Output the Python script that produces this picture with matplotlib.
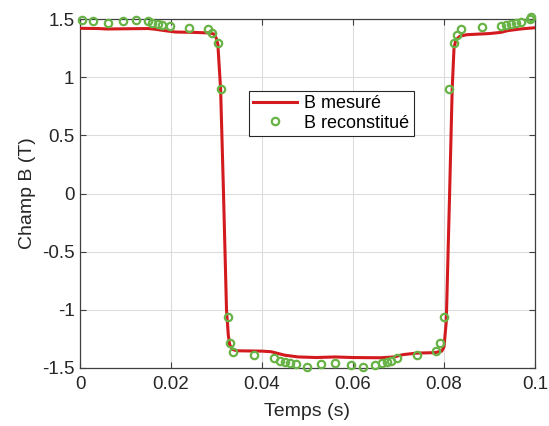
import matplotlib
matplotlib.use("Agg")
import matplotlib.pyplot as plt
from matplotlib.ticker import FixedLocator, FixedFormatter

plt.rcParams['font.family'] = ['Liberation Sans', 'DejaVu Sans']

# Measured B (red line)
t_mes = [0.000, 0.004, 0.006, 0.010, 0.015, 0.0165, 0.019, 0.021, 0.025, 0.0285,
         0.0295, 0.0300, 0.0303, 0.0309, 0.0315, 0.0322, 0.0326, 0.0329, 0.0335,
         0.0345, 0.040, 0.042, 0.045, 0.048, 0.052, 0.056, 0.060, 0.066, 0.069,
         0.071, 0.074, 0.078, 0.0795, 0.0800, 0.0805, 0.0812, 0.0818, 0.0822,
         0.0826, 0.0835, 0.0850, 0.090, 0.0925, 0.094, 0.097, 0.100]
B_mes = [1.420, 1.418, 1.414, 1.416, 1.418, 1.412, 1.398, 1.388, 1.385, 1.380,
         1.370, 1.330, 1.28, 0.90, 0.06, -1.00, -1.22, -1.30, -1.34,
         -1.352, -1.355, -1.36, -1.39, -1.405, -1.41, -1.405, -1.41, -1.412, -1.405,
         -1.385, -1.372, -1.368, -1.355, -1.32, -1.10, -0.05, 0.90, 1.25,
         1.32, 1.352, 1.365, 1.375, 1.385, 1.400, 1.415, 1.425]

# Reconstructed B (green circles)
t_rec = [0.0005, 0.0029, 0.0061, 0.0094, 0.0123, 0.0149, 0.0159, 0.0171, 0.0181,
         0.0198, 0.0240, 0.0282, 0.0291, 0.0303, 0.0310, 0.0325, 0.0330, 0.0337,
         0.0382, 0.0426, 0.0440, 0.0451, 0.0462, 0.0475, 0.0498, 0.0529, 0.0560,
         0.0595, 0.0621, 0.0648, 0.0663, 0.0674, 0.0684, 0.0696, 0.0740, 0.0782,
         0.0791, 0.0799, 0.0811, 0.0822, 0.0828, 0.0837, 0.0883, 0.0925, 0.0936,
         0.0947, 0.0958, 0.0969, 0.0988, 0.0991]
B_rec = [1.491, 1.483, 1.468, 1.483, 1.491, 1.485, 1.468, 1.457, 1.448, 1.440,
         1.420, 1.411, 1.377, 1.296, 0.896, -1.059, -1.283, -1.360, -1.388,
         -1.417, -1.437, -1.446, -1.455, -1.468, -1.489, -1.466, -1.455, -1.474,
         -1.494, -1.474, -1.460, -1.446, -1.440, -1.417, -1.388, -1.351, -1.283,
         -1.064, 0.896, 1.291, 1.362, 1.411, 1.429, 1.440, 1.448, 1.457, 1.468,
         1.477, 1.497, 1.515]

x_ticks = [0, 0.02, 0.04, 0.06, 0.08, 0.1]
x_labels = ['0', '0.02', '0.04', '0.06', '0.08', '0.1']
y_ticks = [-1.5, -1, -0.5, 0, 0.5, 1, 1.5]
y_labels = ['-1.5', '-1', '-0.5', '0', '0.5', '1', '1.5']

txt = '#262626'
fig = plt.figure(figsize=(5.49, 4.26), dpi=100)
ax = fig.add_axes([80/549, 1-368/426, 455/549, 349/426])

ax.plot(t_mes, B_mes, color='#d31a1f', lw=2.2, label='B mesuré', zorder=3)
ax.plot(t_rec, B_rec, ls='none', marker='o', ms=5.3, mfc='none', mec='#67b346',
        mew=1.6, label='B reconstitué', clip_on=False, zorder=4)

ax.set_xlim(0, 0.1)
ax.set_ylim(-1.5, 1.5)
ax.xaxis.set_major_locator(FixedLocator(x_ticks))
ax.xaxis.set_major_formatter(FixedFormatter(x_labels))
ax.yaxis.set_major_locator(FixedLocator(y_ticks))
ax.yaxis.set_major_formatter(FixedFormatter(y_labels))
ax.grid(True, color='#dcdcdc', lw=0.8)
ax.set_axisbelow(True)
ax.tick_params(direction='in', top=True, right=True, length=4, width=0.8,
               colors='#404040', labelcolor=txt, labelsize=13.5, pad=4)
ax.tick_params(axis='x', pad=6)
for s in ax.spines.values():
    s.set_color('#404040')
    s.set_linewidth(0.9)

ax.set_xlabel('Temps (s)', fontsize=14, color=txt, labelpad=7)
ax.set_ylabel('Champ B (T)', fontsize=14, color=txt, labelpad=4)

leg = ax.legend(loc='upper left', bbox_to_anchor=(0.371, 0.795), fontsize=13,
                frameon=True, fancybox=False, edgecolor='#262626', framealpha=1,
                borderpad=0.25, labelspacing=0.15, handlelength=2.4, handletextpad=0.4,
                borderaxespad=0)
leg.get_frame().set_linewidth(0.8)
for t in leg.get_texts():
    t.set_color('#000000')

fig.savefig('out.png', dpi=100)
